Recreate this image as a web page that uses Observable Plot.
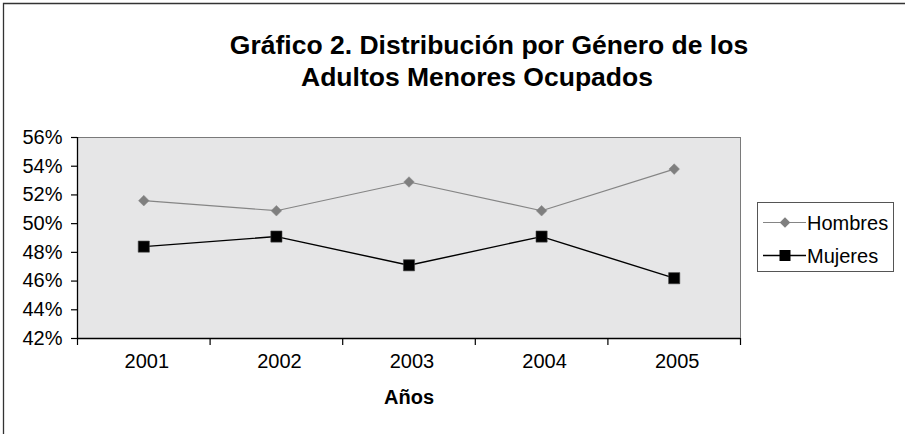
<!DOCTYPE html>
<html>
<head>
<meta charset="utf-8">
<script src="https://cdn.jsdelivr.net/npm/d3@7"></script>
<script src="https://cdn.jsdelivr.net/npm/@observablehq/plot@0.6"></script>
<style>
  html, body { margin: 0; padding: 0; background: #fff; }
  #wrap { position: relative; width: 905px; height: 434px; overflow: hidden; font-family: "Liberation Sans", Arial, sans-serif; }
  #wrap svg { position: absolute; left: 0; top: 0; }
</style>
</head>
<body>
<div id="wrap"></div>
<script>
const titleLines = ["Gráfico 2. Distribución por Género de los", "Adultos Menores Ocupados"];
const xLabel = "Años";
const years = [2001, 2002, 2003, 2004, 2005];
const hombres = [51.6, 50.9, 52.9, 50.9, 53.8];
const mujeres = [48.4, 49.1, 47.1, 49.1, 46.2];
const yTicks = [42, 44, 46, 48, 50, 52, 54, 56];
const seriesNames = ["Hombres", "Mujeres"];

const data = [
  ...years.map((yr, i) => ({year: yr, value: hombres[i], serie: seriesNames[0]})),
  ...years.map((yr, i) => ({year: yr, value: mujeres[i], serie: seriesNames[1]}))
];
const boundaries = [...years.map(y => y - 0.5), years[years.length - 1] + 0.5];
const hData = data.filter(d => d.serie === seriesNames[0]);
const mData = data.filter(d => d.serie === seriesNames[1]);

const chart = Plot.plot({
  width: 905,
  height: 434,
  marginLeft: 77,
  marginRight: 165,
  marginTop: 137,
  marginBottom: 96,
  style: {fontFamily: "'Liberation Sans', Arial, sans-serif", fontSize: "20px", background: "transparent", color: "#000", overflow: "visible"},
  x: {domain: [boundaries[0], boundaries[boundaries.length - 1]], axis: null, label: null},
  y: {domain: [yTicks[0], yTicks[yTicks.length - 1]], axis: null, label: null},
  marks: [
    Plot.frame({fill: "#e6e6e7", stroke: "#7a7a7a", strokeWidth: 1}),
    Plot.axisY({ticks: yTicks, tickSize: 6, tickPadding: 9, tickFormat: d => d + "%", fontSize: 20, stroke: "#000", strokeWidth: 1.2, label: null}),
    Plot.axisX({ticks: boundaries, tickSize: 7, tickFormat: () => "", stroke: "#000", strokeWidth: 1.2, label: null}),
    Plot.ruleX([boundaries[0]], {stroke: "#000", strokeWidth: 1.3}),
    Plot.ruleY([yTicks[0]], {stroke: "#000", strokeWidth: 1.3}),
    Plot.text(years, {x: d => d, text: d => String(d), frameAnchor: "bottom", dy: 29, dx: 3, fontSize: 20, fill: "#000"}),
    Plot.text([xLabel], {frameAnchor: "bottom", dy: 65, fontSize: 20, fontWeight: "bold", fill: "#000"}),
    Plot.line(hData, {x: "year", y: "value", stroke: "#858585", strokeWidth: 1.2}),
    Plot.line(mData, {x: "year", y: "value", stroke: "#000", strokeWidth: 1.4}),
    Plot.dot(hData, {x: "year", y: "value", symbol: "diamond2", r: 4.8, fill: "#7f7f7f", stroke: "#8a8a8a", strokeWidth: 0.5}),
    Plot.dot(mData, {x: "year", y: "value", symbol: "square", r: 6.3, fill: "#000", stroke: "#444", strokeWidth: 0.6})
  ]
});

document.getElementById("wrap").appendChild(chart);

// outer chart border, title and legend drawn into the same SVG
const svg = d3.select(chart);
const deco = svg.append("g");
deco.append("path").attr("d", "M3.5,434 V3.5 H905").attr("fill", "none").attr("stroke", "#333").attr("stroke-width", 1.3);

const title = deco.append("g").attr("font-family", "'Liberation Sans', Arial, sans-serif")
  .attr("font-weight", "bold").attr("font-size", 26.5).attr("text-anchor", "middle").attr("fill", "#000");
title.append("text").attr("x", 489).attr("y", 54).text(titleLines[0]);
title.append("text").attr("x", 477).attr("y", 86).text(titleLines[1]);

const leg = deco.append("g").attr("font-family", "'Liberation Sans', Arial, sans-serif")
  .attr("font-size", 20).attr("text-anchor", "start");
leg.append("rect").attr("x", 757.5).attr("y", 202.5).attr("width", 136).attr("height", 69)
  .attr("fill", "#fff").attr("stroke", "#555").attr("stroke-width", 1);
const rows = [
  {name: seriesNames[0], stroke: "#858585", sw: 1.2, sym: d3.symbolDiamond2, size: 70, fill: "#7f7f7f", y: 222.5},
  {name: seriesNames[1], stroke: "#000", sw: 1.4, sym: d3.symbolSquare, size: 121, fill: "#000", y: 255.5}
];
rows.forEach(r => {
  leg.append("line").attr("x1", 763).attr("x2", 806).attr("y1", r.y).attr("y2", r.y)
    .attr("stroke", r.stroke).attr("stroke-width", r.sw);
  leg.append("path").attr("d", d3.symbol(r.sym, r.size)()).attr("transform", `translate(785,${r.y})`).attr("fill", r.fill);
  leg.append("text").attr("x", 807).attr("y", r.y).attr("dy", "0.35em").attr("fill", "#000").text(r.name);
});
</script>
</body>
</html>
